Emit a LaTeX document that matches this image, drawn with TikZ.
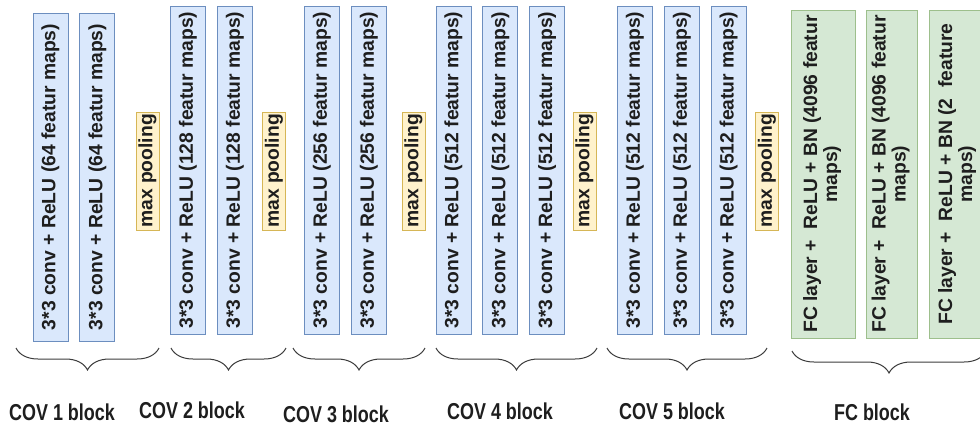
\documentclass[tikz,border=0pt]{standalone}
\usepackage{fontspec}
\setmainfont{Liberation Sans}
\newfontfamily\narrowfont[FakeStretch=0.78]{Liberation Sans}
\usetikzlibrary{positioning, decorations.pathreplacing}

\definecolor{convfill}{HTML}{DAE8FC}
\definecolor{convline}{HTML}{6C8EBF}
\definecolor{poolfill}{HTML}{FFF2CC}
\definecolor{poolline}{HTML}{D6B656}
\definecolor{fcfill}{HTML}{D5E8D4}
\definecolor{fcline}{HTML}{9DBF8C}
\definecolor{inktext}{HTML}{1E1E1E}
\definecolor{bracecol}{HTML}{3C3C3C}

\begin{document}
\begin{tikzpicture}[
    x=1pt, y=-1pt,
    node distance=11pt,
    font=\bfseries\fontsize{19.3}{20}\selectfont,
    % box styles
    conv/.style={rectangle, draw=convline, fill=convfill, line width=0.8pt, minimum width=35pt, minimum height=328pt, inner sep=0pt, text=inktext},
    pool/.style={rectangle, draw=poolline, fill=poolfill, line width=0.8pt, minimum width=23pt, minimum height=118pt, inner sep=0pt, text=inktext},
    fc/.style={rectangle, draw=fcline, fill=fcfill, line width=0.8pt, minimum height=328pt, inner sep=0pt, text=inktext},
    % braces and labels
    grp/.style={decorate, decoration={brace, mirror, amplitude=22pt}, draw=bracecol, line width=1pt},
    blocklabel/.style={font=\narrowfont\bfseries\fontsize{23}{26}\selectfont, text=inktext}
]
\clip (0,0) rectangle (980,429);
\fill[white] (0,0) rectangle (980,429);

% COV 1 block
\node[conv] (c1a) at (50.5,177) {\rotatebox{90}{3*3 conv + ReLU (64 featur maps)}};
\node[conv, right=of c1a] (c1b) {\rotatebox{90}{3*3 conv + ReLU (64 featur maps)}};
\node[pool] (p1) at (147.5,171) {\rotatebox{90}{max pooling}};

% COV 2 block
\node[conv] (c2a) at (188,170) {\rotatebox{90}{3*3 conv + ReLU (128 featur maps)}};
\node[conv, right=of c2a] (c2b) {\rotatebox{90}{3*3 conv + ReLU (128 featur maps)}};
\node[pool] (p2) at (274,171) {\rotatebox{90}{max pooling}};

% COV 3 block
\node[conv] (c3a) at (322,170) {\rotatebox{90}{3*3 conv + ReLU (256 featur maps)}};
\node[conv, right=of c3a] (c3b) {\rotatebox{90}{3*3 conv + ReLU (256 featur maps)}};
\node[pool] (p3) at (413.5,171) {\rotatebox{90}{max pooling}};

% COV 4 block
\node[conv] (c4a) at (453.5,170) {\rotatebox{90}{3*3 conv + ReLU (512 featur maps)}};
\node[conv, right=of c4a] (c4b) {\rotatebox{90}{3*3 conv + ReLU (512 featur maps)}};
\node[conv, right=of c4b] (c4c) {\rotatebox{90}{3*3 conv + ReLU (512 featur maps)}};
\node[pool] (p4) at (584.5,171) {\rotatebox{90}{max pooling}};

% COV 5 block
\node[conv] (c5a) at (635,170) {\rotatebox{90}{3*3 conv + ReLU (512 featur maps)}};
\node[conv, right=of c5a] (c5b) {\rotatebox{90}{3*3 conv + ReLU (512 featur maps)}};
\node[conv, right=of c5b] (c5c) {\rotatebox{90}{3*3 conv + ReLU (512 featur maps)}};
\node[pool] (p5) at (767,171) {\rotatebox{90}{max pooling}};

% FC block
\node[fc, minimum width=64pt] (fc1) at (823,174) {\rotatebox{90}{\begin{tabular}{@{}c@{}}FC layer +\ \ ReLU + BN (4096 featur\\maps)\end{tabular}}};
\node[fc, minimum width=51pt] (fc2) at (891.5,174) {\rotatebox{90}{\begin{tabular}{@{}c@{}}FC layer +\ \ ReLU + BN (4096 featur\\maps)\end{tabular}}};
\node[fc, minimum width=58pt] (fc3) at (958,174) {\rotatebox{90}{\begin{tabular}{@{}c@{}}FC layer +\ \ ReLU + BN (2\ \ feature\\maps)\end{tabular}}};

% braces under the blocks
\draw[grp] (16,348) -- (159,348);
\draw[grp] (171,348) -- (286,348);
\draw[grp] (293,348) -- (425,348);
\draw[grp] (436,348) -- (597,348);
\draw[grp] (607,348) -- (767,348);
\draw[grp] (792,351) -- (986,351);

% block names
\node[blocklabel] (l1) at (62,412) {COV 1 block};
\node[blocklabel] (l2) at (192,410) {COV 2 block};
\node[blocklabel] (l3) at (336,414) {COV 3 block};
\node[blocklabel] (l4) at (500,411) {COV 4 block};
\node[blocklabel] (l5) at (672,411) {COV 5 block};
\node[blocklabel] (l6) at (872,412) {FC block};

\end{tikzpicture}
\end{document}
